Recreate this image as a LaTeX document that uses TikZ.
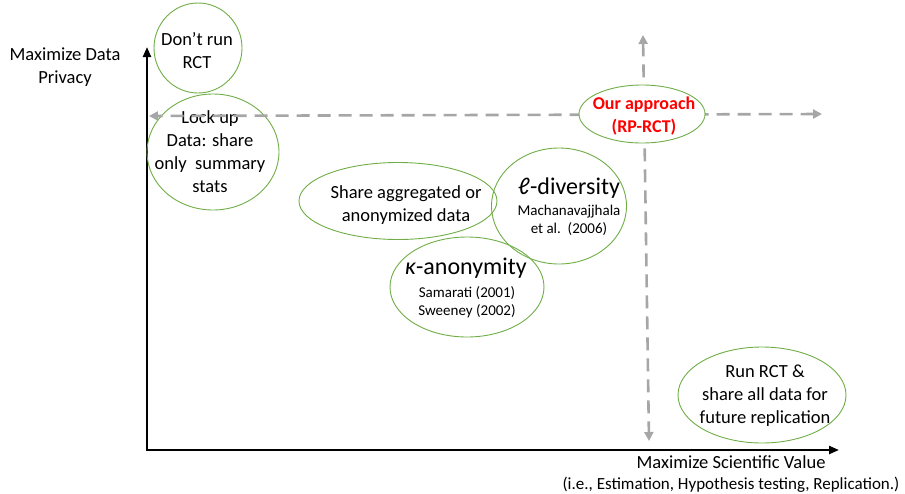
\documentclass[tikz,border=0pt]{standalone}
\usepackage{fontspec}
\setmainfont{Carlito}
\usetikzlibrary{arrows.meta,shapes.geometric}
\definecolor{ovalgreen}{HTML}{70AD47}
\definecolor{guide}{HTML}{A6A6A6}
\definecolor{hl}{HTML}{FF0000}
\begin{document}
\begin{tikzpicture}[x=1pt,y=-1pt,
  oval/.style 2 args={ellipse, draw=ovalgreen, line width=0.9pt,
    minimum width=#1, minimum height=#2, inner sep=0pt},
  body/.style={align=center, inner sep=0pt, font=\fontsize{18.5}{23}\selectfont},
  big/.style={align=center, inner sep=0pt, font=\fontsize{24}{28}\selectfont},
  cite/.style={align=center, inner sep=0pt, font=\fontsize{15}{18}\selectfont},
  guideline/.style={draw=guide, line width=2.6pt, dash pattern=on 13pt off 8pt,
    {Triangle[length=9pt,width=9pt]}-{Triangle[length=9pt,width=9pt]}},
  axis/.style={line width=2.2pt, line join=miter,
    {Triangle[length=10pt,width=8pt]}-{Triangle[length=10pt,width=8pt]}}]
\useasboundingbox (0,0) rectangle (905,493);

% axes
\coordinate (ytop) at (147,47);
\coordinate (O) at (147,450);
\coordinate (xend) at (839,450);
\draw[axis] (ytop) -- (O) -- (xend);

\node[body] (ylab) at (65,67) {Maximize Data\\Privacy};
\node[body] (xlab) at (731,462) {Maximize Scientific Value};
\node[body, font=\fontsize{17}{20}\selectfont] (xsub) at (731,484.5)
  {(i.e., Estimation, Hypothesis testing, Replication.)};

% approaches
\node[oval={88}{90}] (dont) at (198,48) {};
\node[body] (dontT) at (197,51) {Don’t run\\RCT};

\node[oval={132}{116}] (lock) at (213,152) {};
\node[body] (lockT) at (210,152) {Lock up\\Data: share\\only\ \ summary\\stats};

\node[oval={198}{77}] (share) at (398,201) {};
\node[body] (shareT) at (406,205) {Share aggregated or\\anonymized data};

\node[oval={135}{116}] (ldiv) at (559,206) {};
\node[big] (ldivT) at (569,188) {ℓ-diversity};
\node[cite] (ldivC) at (569,220) {Machanavajjhala\\et al.\ \ (2006)};

\node[oval={154}{100}] (kanon) at (467,287) {};
\node[big] (kanonT) at (466,268) {{\itshape κ}-anonymity};
\node[cite] (kanonC) at (467,302) {Samarati (2001)\\Sweeney (2002)};

\node[oval={168}{96}] (share all) at (762,395) {};
\node[body] (runT) at (765,396) {Run RCT \&\\share all data for\\future replication};

% frontier through our approach
\coordinate (hR) at (822,114);
\coordinate (hL) at (149,116);
\coordinate (vT) at (643,35);
\coordinate (vB) at (649,441);
\draw[guideline] (hR) -- (hL);
\draw[guideline] (vT) -- (vB);

\node[oval={126}{58}, fill=white] (ours) at (642,114) {};
\node[body, text=hl, font=\bfseries\fontsize{18}{23}\selectfont] (oursT) at (644,116)
  {Our approach\\(RP-RCT)};
\end{tikzpicture}
\end{document}
